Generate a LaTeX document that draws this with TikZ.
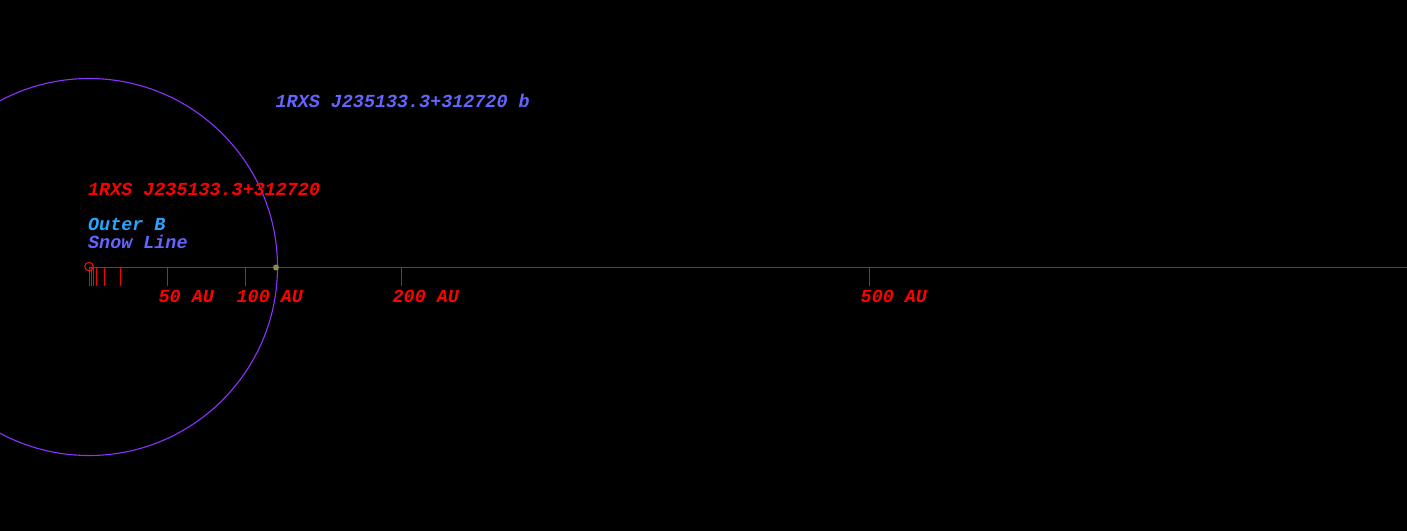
\documentclass[tikz,border=0pt]{standalone}
\usepackage{fontspec}
\setmonofont{Liberation Mono}
\usetikzlibrary{positioning,calc}

\definecolor{orbitviolet}{RGB}{140,50,255}
\definecolor{planetblue}{RGB}{100,100,255}
\definecolor{outerblue}{RGB}{40,165,255}
\definecolor{planetdot}{RGB}{140,138,70}

\begin{document}
\begin{tikzpicture}[x=1bp,y=-1bp]
            \tikzstyle{every node}=[inner sep=0pt, anchor=base west,
            font=\fontsize{18.4bp}{20bp}\selectfont\ttfamily\bfseries\itshape]
            \tikzstyle{tick}=[draw=red, line width=1.5bp]
            % background and frame of the picture
            \fill[black] (0,0) rectangle (1407,531);
            \useasboundingbox (0,0) rectangle (1407,531);
            %      star -------- planet ---------------- end
            %       |  |  |   |     |       |
            \node[circle, draw=red!90!orange, line width=1bp, minimum size=8.5bp,
                  anchor=center] (star) at (89,266.5) {};
            \coordinate (end) at (1407,267.5);
            \draw[red, line width=1.3bp] (89,267.5) -- (end);
            % orbit of the companion
            \draw[orbitviolet, line width=1.1bp] (89,267) circle (188.5);
            \node[circle, fill=planetdot, minimum size=6bp,
                  anchor=center] (planet) at (276,267.5) {};
            % ticks (AU), snapped to pixel columns
            \foreach \au in {0,1.3,2.6,4.5,9.6,20,50,100,200,500}{
                \pgfmathsetmacro{\tx}{round(89+1.56*\au)+0.5}
                \draw[tick] (\tx,267.5) -- (\tx,286);
            }
            \foreach \au in {50,100,200,500}
                \node[text=red] (lab\au) at (89+1.56*\au-8.5,302.5) {\au{} AU};
            % labels
            \node[text=planetblue] (planetlabel) at (275.5,108) {1RXS J235133.3+312720 b};
            \node[text=red] (starlabel) at (88,195.5) {1RXS J235133.3+312720};
            \node[text=outerblue] (outerb) at (88,231) {Outer B};
            \node[text=planetblue] (snowline) at (88,249) {Snow Line};
\end{tikzpicture}
\end{document}
